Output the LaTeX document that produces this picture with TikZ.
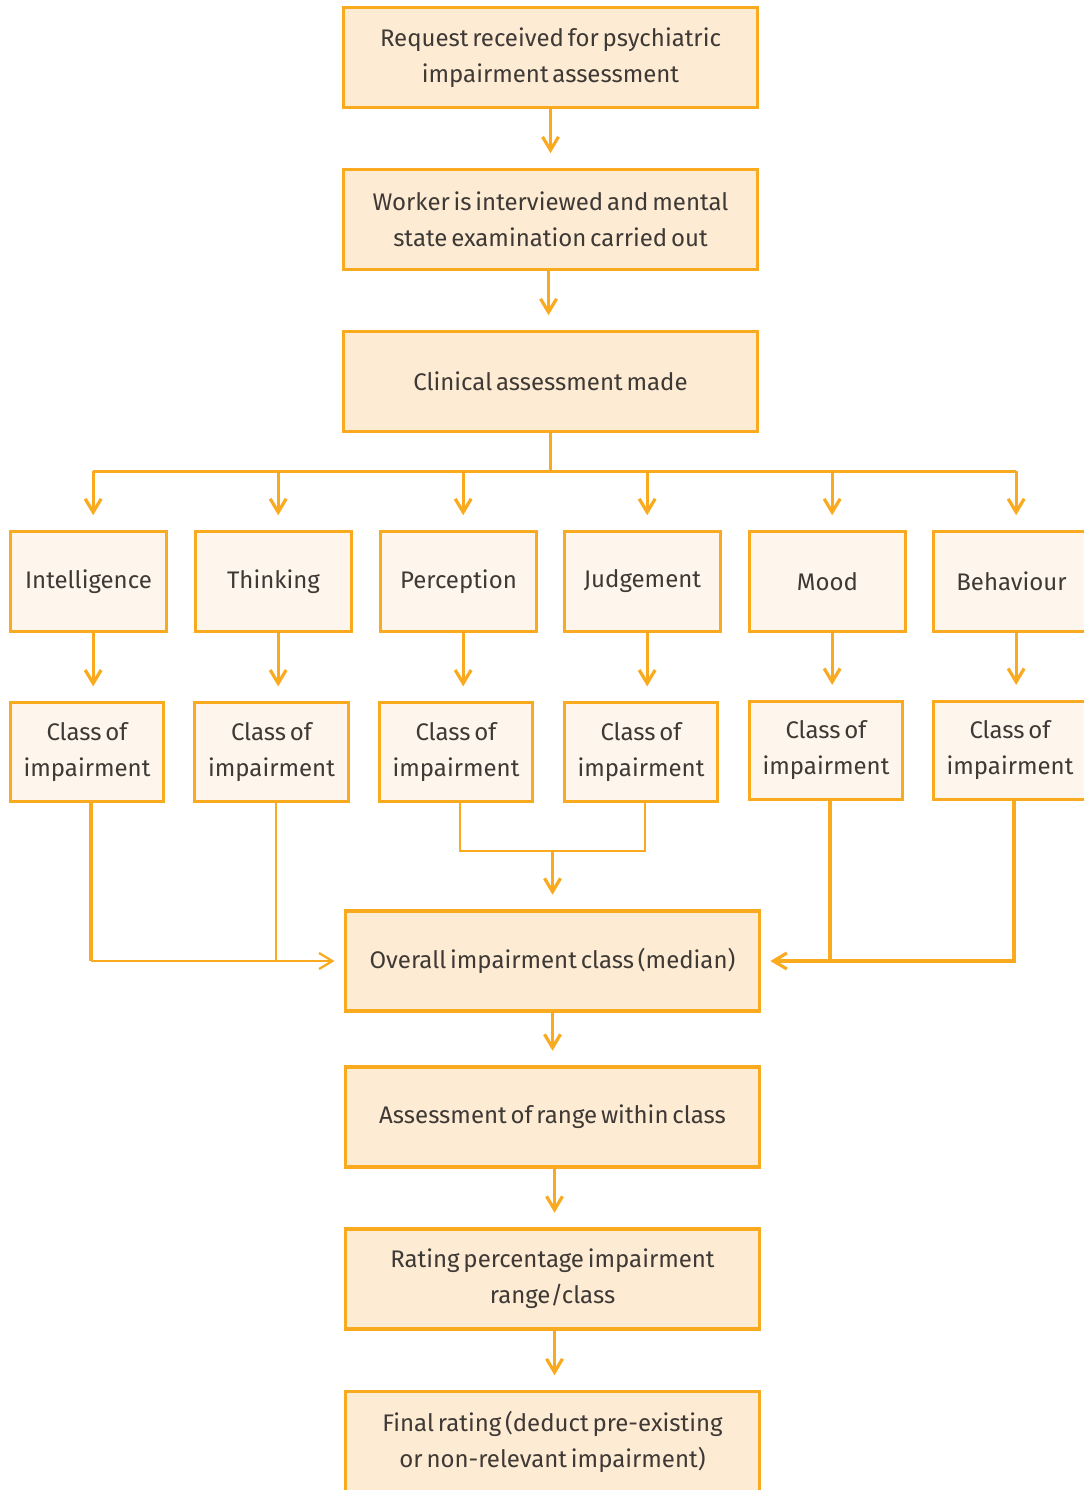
\documentclass[tikz,border=0pt]{standalone}
\usepackage{fontspec}
\setmainfont{Fira Sans}[WordSpace=0.6]
\usepackage{xcolor}
\usepackage{tikz}
\usetikzlibrary{arrows.meta,positioning}
\definecolor{flow-orange}{RGB}{250,170,30}
\definecolor{flow-peach}{RGB}{253,235,212}
\definecolor{flow-cream}{RGB}{254,246,236}
\definecolor{flow-text}{RGB}{62,57,53}
\tikzset{>={Straight Barb[length=10pt,width=12pt]}}
\tikzset{
    mainbox/.style={draw=flow-orange, line width=2.4pt, fill=flow-peach,
        minimum width=310.5pt, minimum height=75pt, inner sep=0pt,
        align=center, text=flow-text, font=\fontsize{18}{27}\selectfont},
    catbox/.style={mainbox, fill=flow-cream, minimum width=117pt},
    clsbox/.style={catbox, minimum width=115pt, minimum height=74pt},
    link/.style={->, flow-orange, line width=2.4pt, shorten >=11pt},
    bar/.style={flow-orange, line width=2.4pt},
    thinbar/.style={flow-orange, line width=1.5pt}
}

\begin{document}
\begin{tikzpicture}[x=0.75pt, y=-0.75pt]
    \useasboundingbox (0,0) rectangle (1084,1490);

    \node[mainbox] (request) at (550.5,57.5)
        {Request received for psychiatric\\impairment assessment};
    \node[mainbox] (interview) at (550.5,219.5)
        {Worker is interviewed and mental\\state examination carried out};
    \node[mainbox] (clinical) at (550.5,381.5) {Clinical assessment made};

    \node[catbox] (cat1) at (88.5,581.5) {Intelligence};
    \node[catbox] (cat2) at (273.5,581.5) {Thinking};
    \node[catbox] (cat3) at (458.5,581.5) {Perception};
    \node[catbox] (cat4) at (642.5,581.5) {Judgement};
    \node[catbox] (cat5) at (827.5,581.5) {Mood};
    \node[catbox] (cat6) at (1011.5,581.5) {Behaviour};

    \node[clsbox] (cls1) at (87,752) {Class of\\impairment};
    \node[clsbox] (cls2) at (271.5,752) {Class of\\impairment};
    \node[clsbox] (cls3) at (456,752) {Class of\\impairment};
    \node[clsbox] (cls4) at (641,752) {Class of\\impairment};
    \node[clsbox] (cls5) at (826,750.5) {Class of\\impairment};
    \node[clsbox] (cls6) at (1010,750.5) {Class of\\impairment};

    \node[mainbox] (overall) at (552.5,961) {Overall impairment class (median)};
    \node[mainbox] (range) at (552.5,1117) {Assessment of range within class};
    \node[mainbox] (rating) at (552.5,1279)
        {Rating percentage impairment\\range/class};
    \node[mainbox] (final) at (552.5,1441.5)
        {Final rating (deduct pre-existing\\or non-relevant impairment)};

    % main column
    \draw[link] (request) -- (interview);
    \draw[link] ([xshift=-1.5pt]interview.south) -- ([xshift=-1.5pt]clinical.north);
    \draw[link] (overall) -- (range);
    \draw[link] ([xshift=1.5pt]range.south) -- ([xshift=1.5pt]rating.north);
    \draw[link] ([xshift=1.5pt]rating.south) -- ([xshift=1.5pt]final.north);

    % fan out to the six areas
    \draw[bar] (clinical.south) -- ++(0,38) coordinate (fork);
    \foreach \n in {1,...,6} {
        \coordinate (top\n) at ([xshift=3.5pt]cat\n.north);
        \coordinate (low\n) at ([xshift=3.5pt]cat\n.south);
        \coordinate (foot\n) at ([xshift=3pt]cls\n.south);
        \draw[link] (top\n |- fork) -- (top\n);
        \draw[link] (low\n) -- (low\n |- cls\n.north);
    }
    \draw[bar] (top1 |- fork) -- (top6 |- fork);

    % left pair
    \draw[bar] (foot1) -- (foot1 |- overall.west);
    \draw[thinbar] (foot2) -- (foot2 |- overall.west);
    \draw[thinbar] (foot1 |- overall.west) -- (foot2 |- overall.west);
    \draw[link, line width=1.7pt, shorten >=7pt] (foot2 |- overall.west) -- (overall.west);

    % middle pair
    \draw[thinbar] (foot3) -- ++(0,48) coordinate (join) -| (foot4);
    \draw[link] (overall.north |- join) -- (overall.north);

    % right pair
    \draw[bar] (foot6) |- (foot5 |- overall.east) coordinate (meet);
    \draw[bar] (foot5) -- (meet);
    \draw[link, shorten >=7pt] (meet) -- (overall.east);
\end{tikzpicture}
\end{document}
